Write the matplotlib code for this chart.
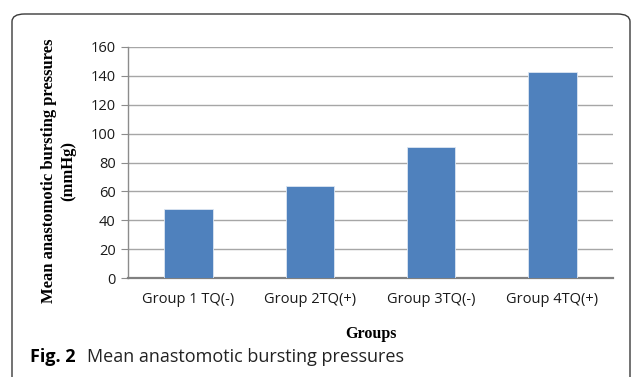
import matplotlib
matplotlib.use("Agg")
import matplotlib.pyplot as plt
from matplotlib.patches import FancyBboxPatch

categories = ["Group 1 TQ(-)", "Group 2TQ(+)", "Group 3TQ(-)", "Group 4TQ(+)"]
values = [48, 64, 91, 143]
yticks = [0, 20, 40, 60, 80, 100, 120, 140, 160]

W, H = 633, 377
fig = plt.figure(figsize=(W / 100, H / 100), dpi=100)
fig.patch.set_facecolor("white")

# outer frame (rounded, open at bottom)
frame = FancyBboxPatch((12 / W, -20 / H), (618 / W), (H - 14 + 20) / H,
                       boxstyle="round,pad=0,rounding_size=0.02",
                       transform=fig.transFigure, fill=False,
                       edgecolor="#3a3a3a", linewidth=1.0, clip_on=False)
fig.patches.append(frame)

ax = fig.add_axes([128 / W, 99 / H, 485 / W, 231 / H])
x = range(len(categories))
ax.bar(x, values, width=0.4, color="#4f81bd", edgecolor="#dce6f2",
       linewidth=0.6, zorder=3)
ax.set_xlim(-0.5, len(categories) - 0.5)
ax.set_ylim(0, 160)
ax.set_yticks(yticks)
ax.set_xticks(list(x))
ax.set_xticklabels(categories)
ax.yaxis.grid(True, color="#a6a6a6", linewidth=1.0, zorder=0)
ax.set_axisbelow(True)
for s in ["top", "right"]:
    ax.spines[s].set_visible(False)
ax.spines["left"].set_color("#8c8c8c")
ax.spines["left"].set_linewidth(1.0)
ax.spines["bottom"].set_color("#808080")
ax.spines["bottom"].set_linewidth(1.6)
ax.tick_params(axis="y", direction="out", length=5, color="#8c8c8c",
               labelsize=10.5, pad=4)
ax.tick_params(axis="x", length=0, labelsize=10.5, pad=10)
for lbl in ax.get_xticklabels() + ax.get_yticklabels():
    lbl.set_fontfamily("Open Sans")
    lbl.set_color("#1a1a1a")

ax.set_xlabel("Groups", fontfamily="Liberation Serif", fontweight="bold",
              fontsize=11.5, labelpad=14)
fig.text(59 / W, 206 / H, "Mean anastomotic bursting pressures\n(mmHg)",
         rotation=90, ha="center", va="center", fontfamily="Liberation Serif",
         fontweight="bold", fontsize=12, linespacing=1.25)

fig.text(30 / W, 20 / H, "Fig. 2", fontfamily="Open Sans", fontweight="bold",
         fontsize=13, ha="left", va="center")
fig.text(87 / W, 20 / H, "Mean anastomotic bursting pressures",
         fontfamily="Open Sans", fontsize=13, ha="left", va="center",
         color="#222222")

fig.savefig("out.png", dpi=100)
